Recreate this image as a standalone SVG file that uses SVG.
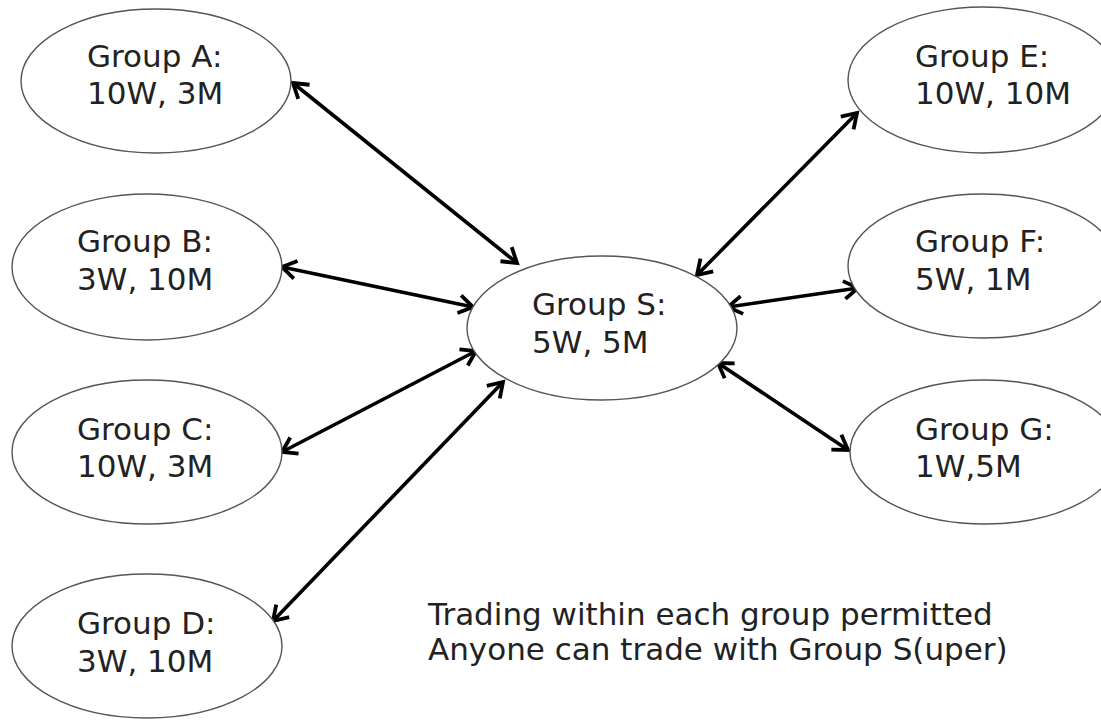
<svg xmlns="http://www.w3.org/2000/svg" width="1101" height="721" viewBox="0 0 1101 721">
<style>
.node ellipse{fill:#fff;stroke:#555;stroke-width:1.4}
text{font-family:"DejaVu Sans","Verdana",sans-serif;font-size:31px;fill:#222}
.conn line{stroke:#000;stroke-width:3.6;marker-start:url(#ah);marker-end:url(#ah)}
</style>
<defs>
<marker id="ah" markerUnits="userSpaceOnUse" viewBox="-18 -13 22 26" refX="0" refY="0" markerWidth="22" markerHeight="26" orient="auto-start-reverse">
<path d="M-14,-9 L0,0 L-14,9" fill="none" stroke="#000" stroke-width="3.8" stroke-linejoin="miter"/>
</marker>
</defs>
<rect width="1101" height="721" fill="#fff"/>
<g id="connectors" class="conn">
<line x1="293" y1="83" x2="517" y2="263"/>
<line x1="282" y1="267" x2="473" y2="307"/>
<line x1="282" y1="452" x2="476" y2="351"/>
<line x1="273" y1="621" x2="503" y2="382"/>
<line x1="857" y1="113" x2="697" y2="275"/>
<line x1="858" y1="288" x2="728" y2="307"/>
<line x1="848" y1="450" x2="718" y2="363"/>
</g>
<g id="nodeA" class="node"><ellipse cx="156" cy="81" rx="135" ry="72"/><text x="87" y="67">Group A:</text><text x="87" y="104">10W, 3M</text></g>
<g id="nodeB" class="node"><ellipse cx="147" cy="267" rx="135" ry="73"/><text x="77" y="252">Group B:</text><text x="77" y="290">3W, 10M</text></g>
<g id="nodeC" class="node"><ellipse cx="147" cy="452" rx="135" ry="72"/><text x="77" y="440">Group C:</text><text x="77" y="477">10W, 3M</text></g>
<g id="nodeD" class="node"><ellipse cx="147" cy="646" rx="135" ry="72"/><text x="77" y="634">Group D:</text><text x="77" y="672">3W, 10M</text></g>
<g id="nodeS" class="node"><ellipse cx="602" cy="328" rx="135" ry="72"/><text x="532" y="315">Group S:</text><text x="532" y="353">5W, 5M</text></g>
<g id="nodeE" class="node"><ellipse cx="983" cy="80" rx="135" ry="73"/><text x="915" y="67">Group E:</text><text x="915" y="104">10W, 10M</text></g>
<g id="nodeF" class="node"><ellipse cx="983" cy="266" rx="135" ry="72"/><text x="915" y="252">Group F:</text><text x="915" y="290">5W, 1M</text></g>
<g id="nodeG" class="node"><ellipse cx="985" cy="452" rx="135" ry="72"/><text x="915" y="440">Group G:</text><text x="915" y="477">1W,5M</text></g>
<g id="note"><text x="428" y="625">Trading within each group permitted</text><text x="428" y="660">Anyone can trade with Group S(uper)</text></g>
</svg>
